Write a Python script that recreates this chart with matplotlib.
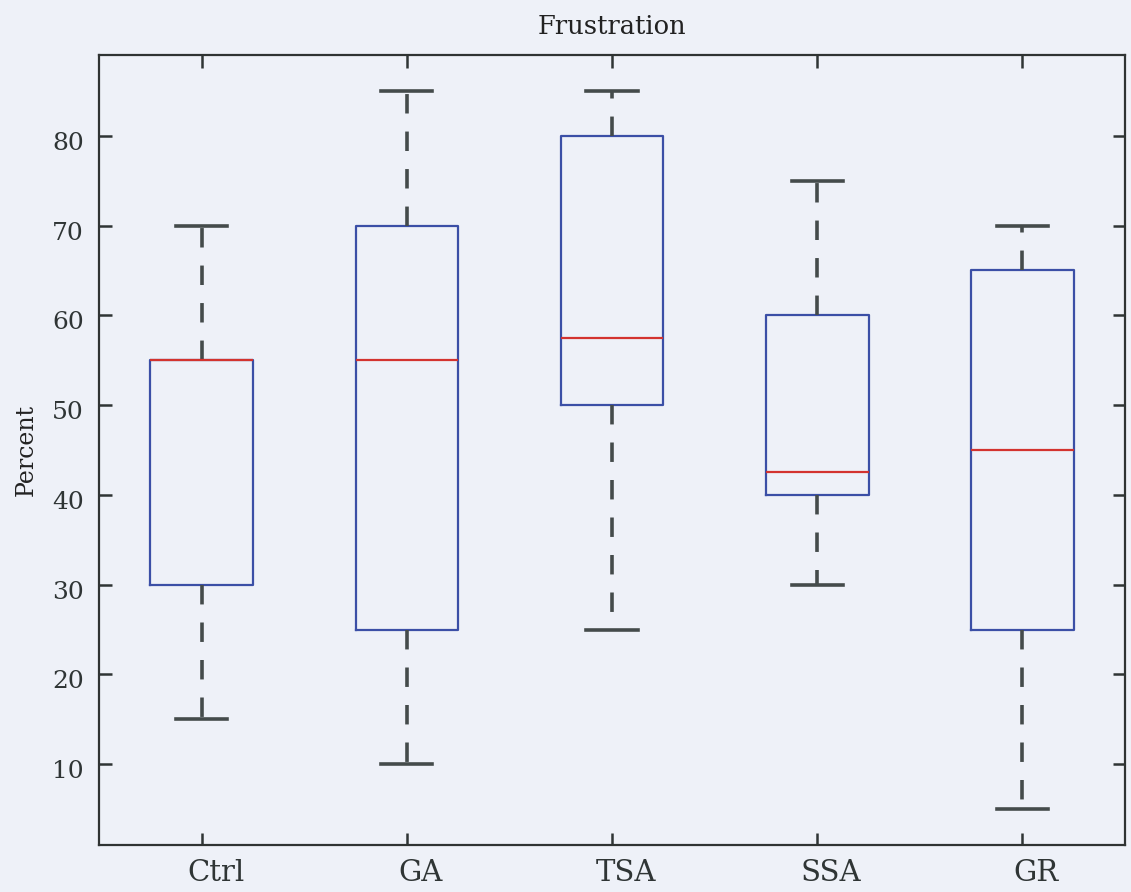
import matplotlib
matplotlib.use("Agg")
import matplotlib.pyplot as plt
import matplotlib.transforms as mtransforms

# box data (percent)
groups = ["Ctrl", "GA", "TSA", "SSA", "GR"]
whisker_low = [15, 10, 25, 30, 5]
q1 = [30, 25, 50, 40, 25]
medians = [55, 55, 57.5, 42.5, 45]
q3 = [55, 70, 80, 60, 65]
whisker_high = [70, 85, 85, 75, 70]
yticks = [10, 20, 30, 40, 50, 60, 70, 80]

bg = "#eef1f8"
plt.rcParams["font.family"] = ["DejaVu Serif"]
plt.rcParams["lines.scale_dashes"] = False

stats = []
for i in range(len(groups)):
    stats.append(dict(label=groups[i], whislo=whisker_low[i], q1=q1[i], med=medians[i],
                      q3=q3[i], whishi=whisker_high[i], fliers=[]))

fig = plt.figure(figsize=(11.31, 8.92), dpi=100, facecolor=bg)
ax = fig.add_axes([99/1131, 47/892, (1125-99)/1131, (845-55)/892])
ax.set_facecolor(bg)

ax.bxp(stats, widths=0.5, showfliers=False,
       boxprops=dict(color="#3b4fa6", lw=1.6),
       medianprops=dict(color="#d3332f", lw=1.6),
       whiskerprops=dict(color="#444b4b", lw=2.6, ls=(0, (14, 13))),
       capprops=dict(color="#444b4b", lw=2.6),
       capwidths=0.25)

ax.set_xlim(0.5, 5.5)
ax.set_ylim(1, 89)
ax.set_yticks(yticks)
ax.tick_params(direction="in", length=9, width=1.8, top=True, right=True,
               colors="#2f3535")
ax.tick_params(axis="x", labelsize=21, pad=10)
ax.tick_params(axis="y", labelsize=18, pad=11)
for s in ax.spines.values():
    s.set_linewidth(1.6)
    s.set_color("#2f3333")

# the scanned labels sit a little off their ticks
dx = mtransforms.ScaledTranslation(14/100, 0, fig.dpi_scale_trans)
for lab in ax.get_xticklabels():
    lab.set_transform(lab.get_transform() + dx)
dy = mtransforms.ScaledTranslation(0, -5/100, fig.dpi_scale_trans)
for lab in ax.get_yticklabels():
    lab.set_transform(lab.get_transform() + dy)

ax.set_title("Frustration", fontsize=18.5, color="#222", pad=15)
ax.set_ylabel("Percent", fontsize=17, color="#222", labelpad=10)

fig.savefig("out.png", dpi=100, facecolor=bg)
